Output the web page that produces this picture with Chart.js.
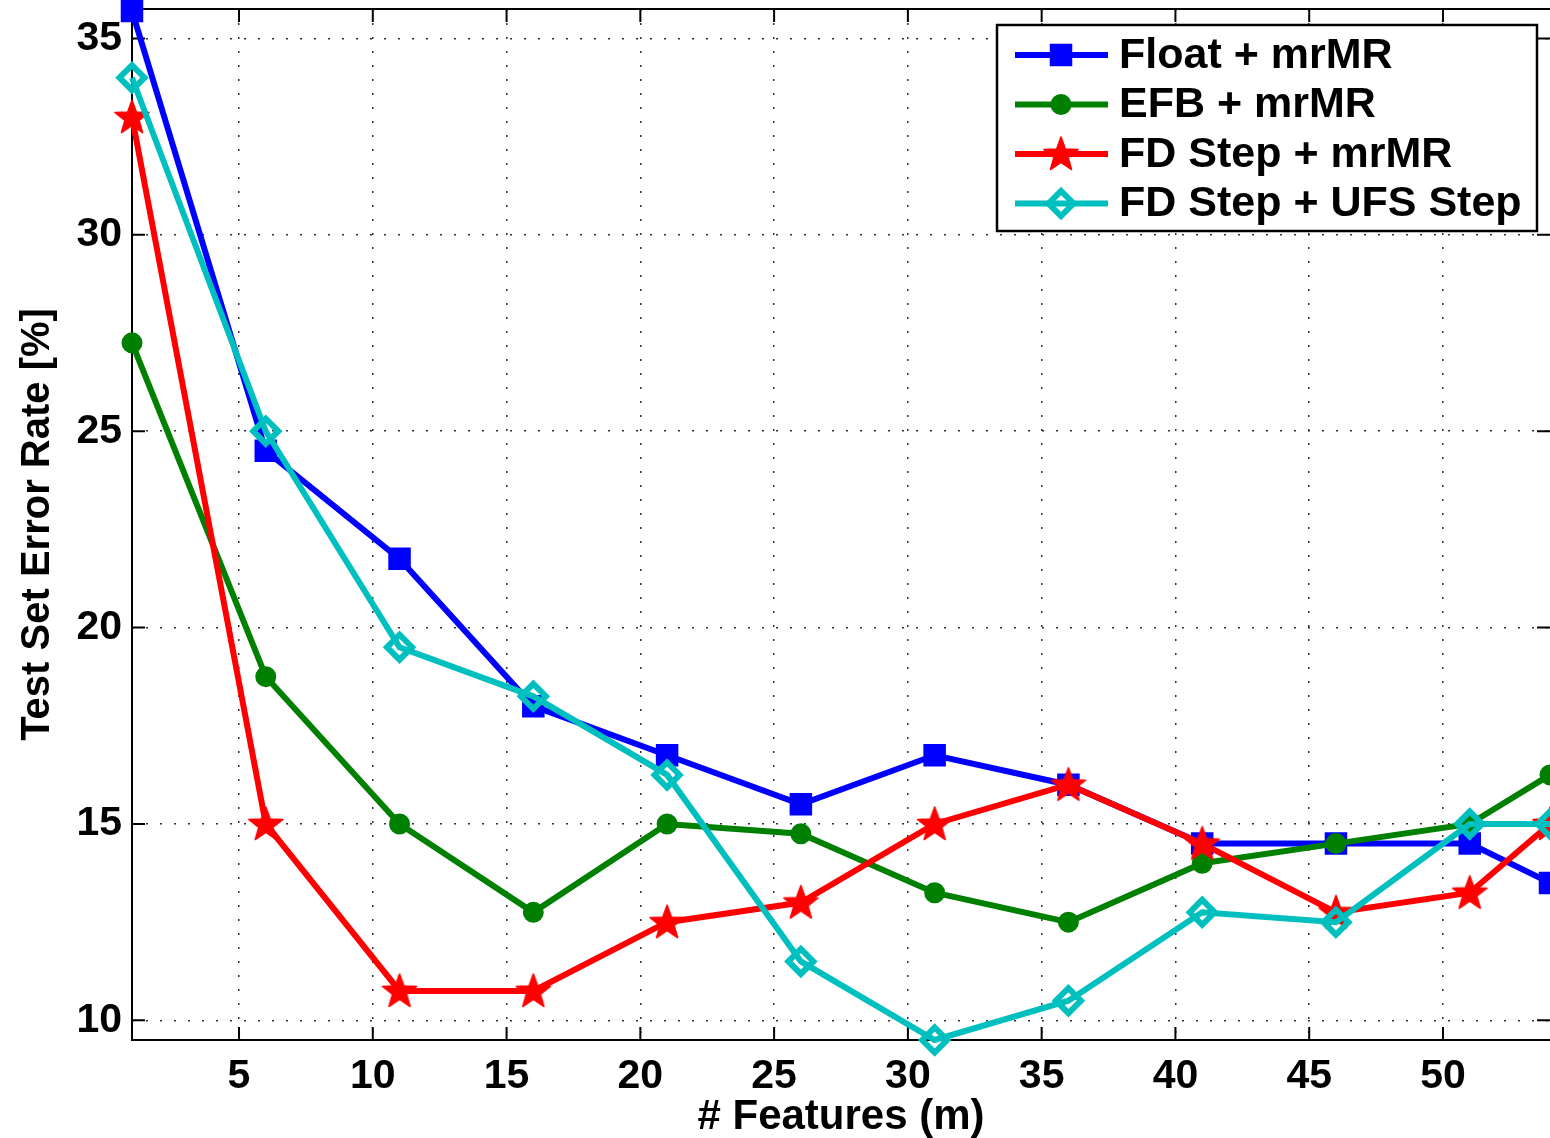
<!DOCTYPE html>
<html>
<head>
<meta charset="utf-8">
<script src="https://cdn.jsdelivr.net/npm/chart.js@4.4.0/dist/chart.umd.min.js"></script>
<style>
  html, body { margin: 0; padding: 0; background: #fff; }
  #wrap { width: 1550px; height: 1138px; }
</style>
</head>
<body>
<div id="wrap"><canvas id="chart" width="1550" height="1138"></canvas></div>
<script>
// values
const features = [1, 6, 11, 16, 21, 26, 31, 36, 41, 46, 51, 54];
const floatMrmr = [35.7, 24.5, 21.75, 18.0, 16.75, 15.5, 16.75, 16.0, 14.5, 14.5, 14.5, 13.5];
const efbMrmr   = [27.25, 18.75, 15.0, 12.75, 15.0, 14.75, 13.25, 12.5, 14.0, 14.5, 15.0, 16.25];
const fdMrmr    = [33.0, 15.0, 10.75, 10.75, 12.5, 13.0, 15.0, 16.0, 14.5, 12.75, 13.25, 15.0];
const fdUfs     = [34.0, 25.0, 19.5, 18.25, 16.25, 11.5, 9.5, 10.5, 12.75, 12.5, 15.0, 15.0];
const seriesNames = ['Float + mrMR', 'EFB + mrMR', 'FD Step + mrMR', 'FD Step + UFS Step'];
const xTicks = [5, 10, 15, 20, 25, 30, 35, 40, 45, 50];
const yTicks = [10, 15, 20, 25, 30, 35];

const FONT = 'Helvetica, "Liberation Sans", Arial, sans-serif';

// matlab style pentagram marker
function starImage(color) {
  const c = document.createElement('canvas');
  c.width = 38; c.height = 38;
  const g = c.getContext('2d');
  const R = 18, r = 7.4;
  g.beginPath();
  for (let i = 0; i < 10; i++) {
    const a = -Math.PI / 2 + i * Math.PI / 5;
    const rr = i % 2 ? r : R;
    g.lineTo(19 + rr * Math.cos(a), 20 + rr * Math.sin(a));
  }
  g.closePath();
  g.fillStyle = color;
  g.fill();
  g.strokeStyle = color;
  g.lineWidth = 1.5;
  g.lineJoin = 'round';
  g.stroke();
  return c;
}

const pts = (ys) => features.map((x, i) => ({ x, y: ys[i] }));

const base = { borderWidth: 6, fill: false, tension: 0, clip: false, pointBorderWidth: 2 };
const datasets = [
  { ...base, label: seriesNames[0], data: pts(floatMrmr), borderColor: '#0000ff', backgroundColor: '#0000ff',
    pointStyle: 'rect', pointRadius: 14.5, pointBackgroundColor: '#0000ff', order: 4 },
  { ...base, label: seriesNames[1], data: pts(efbMrmr), borderColor: '#008000', backgroundColor: '#008000',
    pointStyle: 'circle', pointRadius: 9.5, pointBackgroundColor: '#008000', order: 3 },
  { ...base, label: seriesNames[2], data: pts(fdMrmr), borderColor: '#ff0000', backgroundColor: '#ff0000',
    pointStyle: starImage('#ff0000'), pointRadius: 19, order: 2 },
  { ...base, label: seriesNames[3], data: pts(fdUfs), borderColor: '#00bfbf', backgroundColor: '#00bfbf',
    pointStyle: 'rectRot', pointRadius: 12.5, pointBorderWidth: 6, pointBackgroundColor: 'rgba(0,0,0,0)', order: 1 }
];

// axes box + inward ticks (matlab look)
const boxPlugin = {
  id: 'box',
  beforeDatasetsDraw(chart) {
    const { ctx, chartArea: a, scales: { x, y } } = chart;
    ctx.save();
    ctx.strokeStyle = '#000';
    ctx.lineWidth = 2;
    ctx.strokeRect(a.left, a.top, a.right - a.left + 4, a.bottom - a.top);
    ctx.beginPath();
    xTicks.forEach(v => {
      const px = x.getPixelForValue(v);
      ctx.moveTo(px, a.bottom); ctx.lineTo(px, a.bottom - 13);
      ctx.moveTo(px, a.top); ctx.lineTo(px, a.top + 13);
    });
    yTicks.forEach(v => {
      const py = y.getPixelForValue(v);
      ctx.moveTo(a.left, py); ctx.lineTo(a.left + 13, py);
      ctx.moveTo(a.right, py); ctx.lineTo(a.right - 13, py);
    });
    ctx.stroke();
    ctx.restore();
  }
};

const legendPlugin = {
  id: 'boxLegend',
  afterDraw(chart) {
    const { ctx } = chart;
    const bx = 997, by = 25, bw = 540, bh = 206;
    ctx.save();
    ctx.fillStyle = '#fff';
    ctx.fillRect(bx, by, bw, bh);
    ctx.strokeStyle = '#000';
    ctx.lineWidth = 2.5;
    ctx.strokeRect(bx, by, bw, bh);
    ctx.font = 'bold 43px ' + FONT;
    ctx.textBaseline = 'middle';
    chart.data.datasets.forEach((ds, i) => {
      const cy = by + 30 + i * 49.5;
      ctx.strokeStyle = ds.borderColor;
      ctx.lineWidth = 6;
      ctx.beginPath();
      ctx.moveTo(1015, cy); ctx.lineTo(1108, cy);
      ctx.stroke();
      ctx.fillStyle = ds.pointBackgroundColor || ds.borderColor;
      ctx.lineWidth = ds.pointBorderWidth;
      Chart.helpers.drawPoint(ctx, { pointStyle: ds.pointStyle, radius: ds.pointRadius, borderWidth: ds.pointBorderWidth, rotation: 0 }, 1061, cy);
      ctx.fillStyle = '#000';
      ctx.fillText(ds.label, 1119, cy + 1);
    });
    ctx.restore();
  }
};

const tickFont = { family: FONT, size: 41, weight: 'bold' };

new Chart(document.getElementById('chart'), {
  type: 'line',
  data: { datasets },
  options: {
    responsive: false,
    animation: false,
    devicePixelRatio: 1,
    layout: { autoPadding: false, padding: { top: 9, right: 0, left: 0, bottom: 0 } },
    plugins: { legend: { display: false }, tooltip: { enabled: false } },
    scales: {
      x: {
        type: 'linear', min: 1, max: 54,
        afterBuildTicks: (s) => { s.ticks = xTicks.map(v => ({ value: v })); },
        afterFit: (s) => { s.height = 98; s.paddingLeft = 0; s.paddingRight = 0; },
        grid: { color: '#333', lineWidth: 1.5, drawTicks: false },
        border: { display: false, dash: [2, 12] },
        ticks: { color: '#000', padding: 12, font: tickFont, maxRotation: 0 },
        title: { display: true, text: '# Features (m)', color: '#000', padding: { top: 0, bottom: 0 },
                 font: { family: FONT, size: 42, weight: 'bold', lineHeight: 1 } }
      },
      y: {
        type: 'linear', min: 9.5, max: 35.75,
        afterBuildTicks: (s) => { s.ticks = yTicks.map(v => ({ value: v })); },
        afterFit: (s) => { s.width = 132; s.paddingTop = 0; s.paddingBottom = 0; },
        grid: { color: '#333', lineWidth: 1.5, drawTicks: false },
        border: { display: false, dash: [2, 12] },
        ticks: { color: '#000', padding: 10, font: tickFont },
        title: { display: true, text: 'Test Set Error Rate [%]', color: '#000', padding: { top: 18, bottom: 0 },
                 font: { family: FONT, size: 40, weight: 'bold', lineHeight: 1 } }
      }
    }
  },
  plugins: [boxPlugin, legendPlugin]
});
</script>
</body>
</html>
